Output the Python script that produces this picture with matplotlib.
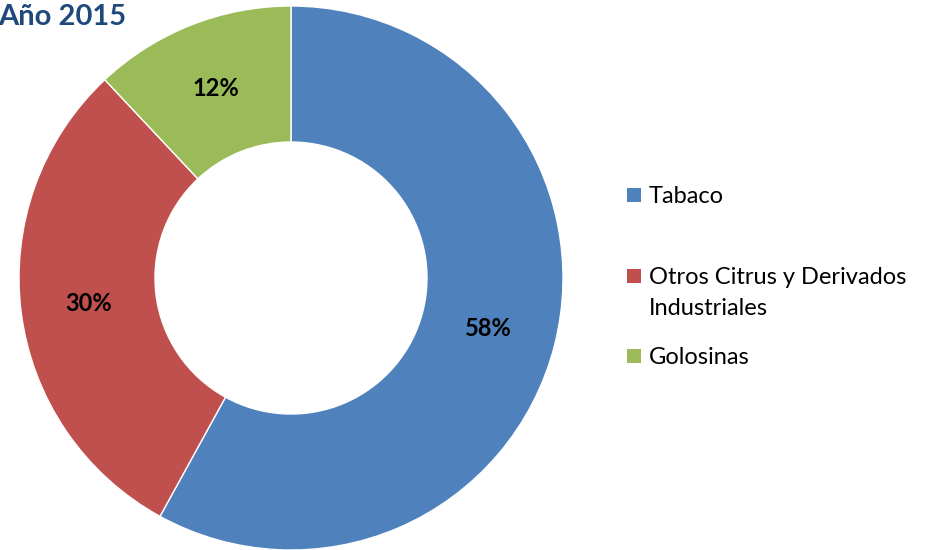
import matplotlib.pyplot as plt
from matplotlib.patches import Rectangle

categorias = ['Tabaco', 'Otros Citrus y Derivados\nIndustriales', 'Golosinas']
valores = [58, 30, 12]
colores = ['#4F81BD', '#C0504D', '#9BBB59']

plt.rcParams['font.family'] = ['Lato', 'DejaVu Sans']

W, H = 934, 550
fig = plt.figure(figsize=(W / 100, H / 100), dpi=100)

cx, cy, r = 291, 278, 272
ax = fig.add_axes([(cx - r) / W, (H - cy - r) / H, 2 * r / W, 2 * r / H])
wedges, _, autotexts = ax.pie(valores, colors=colores, startangle=90, counterclock=False,
                              radius=1, autopct='%1.0f%%', pctdistance=0.75,
                              wedgeprops=dict(width=0.5, edgecolor='white', linewidth=1),
                              textprops=dict(fontsize=17, fontweight='bold', color='black'))
ax.set_xlim(-1, 1)
ax.set_ylim(-1, 1)
ax.set_aspect('equal')
ax.axis('off')

fig.text(-2 / W, 1 - 17 / H, 'Año 2015', fontsize=21, fontweight='bold', color='#1F497D',
         va='center', ha='left')

# leyenda a mano, con el espaciado del original
filas = [195, 276, 356]
for cat, col, yy in zip(categorias, colores, filas):
    fig.patches.append(Rectangle((627 / W, 1 - (yy + 7) / H), 14 / W, 14 / H,
                                 transform=fig.transFigure, facecolor=col, edgecolor='none'))
    fig.text(649 / W, 1 - (yy - 9) / H, cat, fontsize=17, va='top', ha='left',
             color='black', linespacing=1.6)

fig.savefig('out.png', dpi=100)
